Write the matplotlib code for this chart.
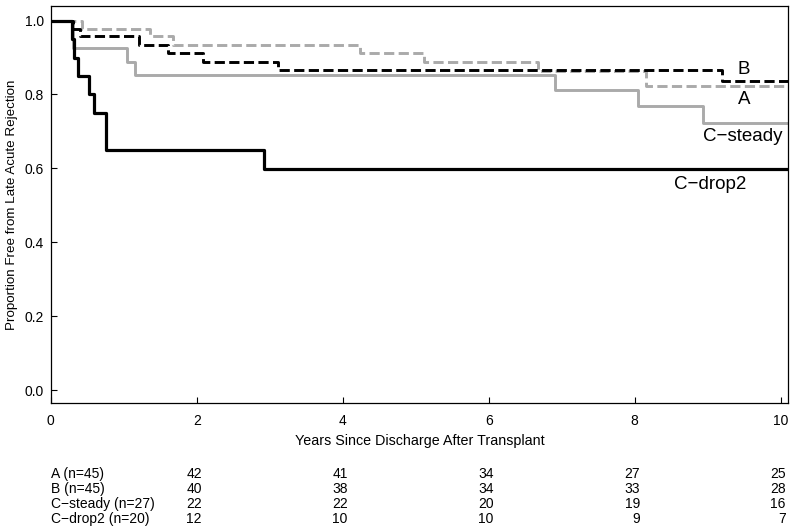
import matplotlib
matplotlib.use("Agg")
import matplotlib.pyplot as plt

plt.rcParams["font.family"] = ["Liberation Sans", "DejaVu Sans"]

# Kaplan-Meier step curves (event times in years, survival after each step)
t_a = [0, 0.43, 1.36, 1.68, 4.23, 5.12, 6.68, 8.15, 10.1]
s_a = [1.0, 0.978, 0.957, 0.934, 0.912, 0.888, 0.864, 0.824, 0.824]

t_b = [0, 0.30, 0.40, 1.21, 1.60, 2.08, 3.11, 9.19, 10.1]
s_b = [1.0, 0.978, 0.957, 0.934, 0.912, 0.888, 0.865, 0.837, 0.837]

t_cs = [0, 0.30, 1.05, 1.15, 6.91, 8.05, 8.94, 10.1]
s_cs = [1.0, 0.926, 0.889, 0.852, 0.811, 0.768, 0.724, 0.724]

t_cd = [0, 0.29, 0.32, 0.37, 0.53, 0.59, 0.76, 2.92, 10.1]
s_cd = [1.0, 0.95, 0.90, 0.85, 0.80, 0.75, 0.65, 0.598, 0.598]

# numbers at risk table
risk_times = [2, 4, 6, 8, 10]
risk_labels = ["A (n=45)", "B (n=45)", "C\u2212steady (n=27)", "C\u2212drop2 (n=20)"]
risk_a = [42, 41, 34, 27, 25]
risk_b = [40, 38, 34, 33, 28]
risk_cs = [22, 22, 20, 19, 16]
risk_cd = [12, 10, 10, 9, 7]

GRAY = "#aaaaaa"

fig = plt.figure(figsize=(8, 5.3), dpi=100)
ax = fig.add_axes([0.0634, 0.239, 0.9216, 0.750])

ln, = ax.step(t_a, s_a, where="post", color=GRAY, lw=2.1)
ln.set_dashes((3.5, 1.5))
ax.step(t_cs, s_cs, where="post", color=GRAY, lw=2.1)
ln, = ax.step(t_b, s_b, where="post", color="black", lw=2.1)
ln.set_dashes((3.5, 1.5))
ax.step(t_cd, s_cd, where="post", color="black", lw=2.3)

# curve labels
txt = dict(fontsize=13.5, ha="center", va="center")
ax.text(9.5, 0.867, "B", **txt)
ax.text(9.5, 0.786, "A", **txt)
ax.text(9.48, 0.686, "C\u2212steady", **txt)
ax.text(9.03, 0.556, "C\u2212drop2", **txt)

ax.set_xlim(0, 10.1)
ax.set_ylim(-0.036, 1.04)
ax.set_xticks([0, 2, 4, 6, 8, 10])
ax.set_yticks([0.0, 0.2, 0.4, 0.6, 0.8, 1.0])
ax.set_yticklabels(["0.0", "0.2", "0.4", "0.6", "0.8", "1.0"])
ax.tick_params(direction="in", length=4, width=0.8, labelsize=10)
ax.tick_params(axis="x", pad=8)
ax.tick_params(axis="y", pad=5)
for sp in ax.spines.values():
    sp.set_linewidth(0.9)

ax.set_xlabel("Years Since Discharge After Transplant", fontsize=10.3)
ax.xaxis.set_label_coords(0.5, -0.077)
ax.set_ylabel("Proportion Free from Late Acute Rejection", fontsize=9.6)
ax.yaxis.set_label_coords(-0.044, 0.5)

# risk table
trans = ax.get_xaxis_transform()
rows = [risk_a, risk_b, risk_cs, risk_cd]
row_y = [-0.1786, -0.2155, -0.254, -0.2917]
for lab, vals, y in zip(risk_labels, rows, row_y):
    ax.text(0, y, lab, transform=trans, ha="left", va="center",
            fontsize=10, clip_on=False)
    for t, v in zip(risk_times, vals):
        ax.text(t + 0.07, y, str(v), transform=trans, ha="right",
                va="center", fontsize=10, clip_on=False)

fig.savefig("out.png", dpi=100)
